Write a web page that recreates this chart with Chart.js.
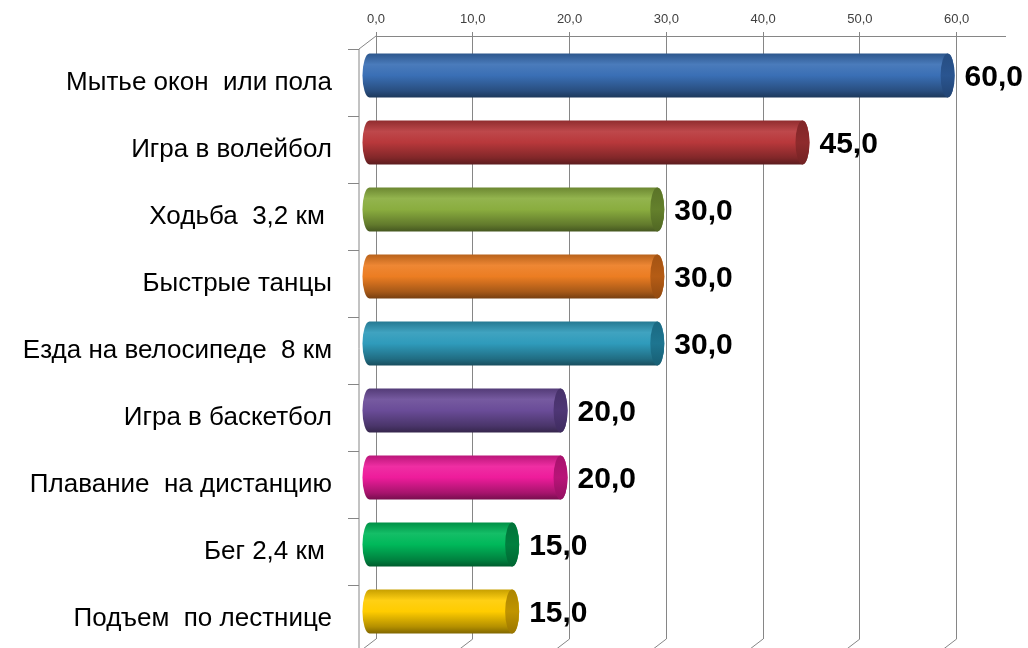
<!DOCTYPE html>
<html lang="ru">
  <head>
    <meta charset="UTF-8" />
    <title>Расход калорий</title>
    <script src="https://cdn.jsdelivr.net/npm/chart.js"></script>
    <style>
      body { margin: 0; background: #fff; }
    </style>
  </head>
  <body>
    <canvas id="chart" width="1028" height="648"></canvas>

    <script>
      // data
      var categories = [
        "Мытье окон  или пола",
        "Игра в волейбол",
        "Ходьба  3,2 км ",
        "Быстрые танцы",
        "Езда на велосипеде  8 км",
        "Игра в баскетбол",
        "Плавание  на дистанцию",
        "Бег 2,4 км ",
        "Подъем  по лестнице",
      ];
      var values = [60, 45, 30, 30, 30, 20, 20, 15, 15];
      var xTicks = [0, 10, 20, 30, 40, 50, 60];

      var barColors = ["#3a6fb5", "#b8383b", "#8aad3f", "#ec7d22", "#2f9bbb", "#6a4c98", "#ee1c9b", "#00b85a", "#ffcc00"];
      var capColors = ["#2a5590", "#8e2a2c", "#64802c", "#b55c15", "#1e7590", "#4e3675", "#b81478", "#00803f", "#c09400"];

      var FONT = "'Liberation Sans', Arial, sans-serif";
      var DX = 14, DY = 6; // 3d offset of the bars

      function shade(hex, f) {
        var n = parseInt(hex.slice(1), 16);
        var r = (n >> 16) & 255, g = (n >> 8) & 255, b = n & 255;
        function c(v) {
          v = f > 1 ? v + (255 - v) * (f - 1) : v * f;
          return Math.round(Math.max(0, Math.min(255, v)));
        }
        return "rgb(" + c(r) + "," + c(g) + "," + c(b) + ")";
      }

      // back wall / floor lines of the 3d chart
      var wallPlugin = {
        id: "wall",
        beforeDatasetsDraw: function (chart) {
          var ctx = chart.ctx, a = chart.chartArea, xs = chart.scales.x;
          ctx.save();
          ctx.strokeStyle = "#868686";
          ctx.lineWidth = 1;
          var x0 = xs.getPixelForValue(0);
          ctx.beginPath();
          ctx.moveTo(x0, a.top);
          ctx.lineTo(x0 - 17, a.top + 13);
          ctx.lineTo(x0 - 17, chart.height);
          ctx.stroke();
          // category tick marks on the front edge
          var step = (a.bottom - a.top) / categories.length;
          for (var i = 0; i <= categories.length; i++) {
            var y = Math.round(a.top + 13 + i * step) + 0.5;
            ctx.beginPath();
            ctx.moveTo(x0 - 28, y);
            ctx.lineTo(x0 - 17, y);
            ctx.stroke();
          }
          // floor slants
          xTicks.forEach(function (v) {
            var x = xs.getPixelForValue(v);
            ctx.beginPath();
            ctx.moveTo(x, a.bottom);
            ctx.lineTo(x - 17, a.bottom + 13);
            ctx.stroke();
          });
          ctx.restore();
        },
      };

      var cylinderPlugin = {
        id: "cylinders",
        afterDatasetsDraw: function (chart) {
          var ctx = chart.ctx;
          var meta = chart.getDatasetMeta(0);
          ctx.save();
          meta.data.forEach(function (bar, i) {
            var L = bar.base - DX, R = bar.x - 2;
            var cy = bar.y + DY, ry = bar.height / 2, rx = 7;
            var T = cy - ry, B = cy + ry;
            var col = barColors[i];

            var g = ctx.createLinearGradient(0, T, 0, B);
            g.addColorStop(0, shade(col, 0.78));
            g.addColorStop(0.25, shade(col, 1.08));
            g.addColorStop(0.5, col);
            g.addColorStop(0.85, shade(col, 0.7));
            g.addColorStop(1, shade(col, 0.5));

            ctx.beginPath();
            ctx.ellipse(L + rx, cy, rx, ry, 0, Math.PI / 2, Math.PI * 1.5);
            ctx.lineTo(R - rx, T);
            ctx.ellipse(R - rx, cy, rx, ry, 0, -Math.PI / 2, Math.PI / 2);
            ctx.closePath();
            ctx.fillStyle = g;
            ctx.fill();

            var g2 = ctx.createLinearGradient(0, T, 0, B);
            g2.addColorStop(0, shade(capColors[i], 0.9));
            g2.addColorStop(0.5, capColors[i]);
            g2.addColorStop(1, shade(capColors[i], 0.8));
            ctx.beginPath();
            ctx.ellipse(R - rx, cy, rx, ry, 0, 0, Math.PI * 2);
            ctx.fillStyle = g2;
            ctx.fill();

            // value label
            ctx.fillStyle = "#000";
            ctx.font = "bold 30px " + FONT;
            ctx.textAlign = "left";
            ctx.textBaseline = "middle";
            ctx.fillText(values[i].toFixed(1).replace(".", ","), R + 10, cy + 2);
          });
          ctx.restore();
        },
      };

      new Chart(document.getElementById("chart"), {
        type: "bar",
        data: {
          labels: categories,
          datasets: [
            {
              data: values,
              backgroundColor: "rgba(0,0,0,0)",
              barThickness: 44,
            },
          ],
        },
        options: {
          indexAxis: "y",
          responsive: false,
          animation: false,
          layout: { padding: { top: 0, right: 23, bottom: 9, left: 0 } },
          plugins: { legend: { display: false }, tooltip: { enabled: false } },
          scales: {
            x: {
              position: "top",
              min: 0,
              max: 65,
              afterBuildTicks: function (scale) {
                scale.ticks = xTicks.map(function (v) { return { value: v }; });
              },
              afterFit: function (scale) { scale.height = 36; },
              ticks: {
                padding: 5,
                color: "#404040",
                font: { family: FONT, size: 13 },
                callback: function (v) { return Number(v).toFixed(1).replace(".", ","); },
              },
              grid: { color: "#868686", tickLength: 4 },
              border: { color: "#868686" },
            },
            y: {
              afterFit: function (scale) {
                scale.width = 376;
                scale.paddingTop = 0;
                scale.paddingBottom = 0;
              },
              grid: { display: false, drawTicks: false },
              border: { display: false },
              ticks: {
                padding: 44,
                labelOffset: 13,
                color: "#000",
                font: { family: FONT, size: 26 },
              },
            },
          },
        },
        plugins: [wallPlugin, cylinderPlugin],
      });
    </script>
  </body>
</html>
